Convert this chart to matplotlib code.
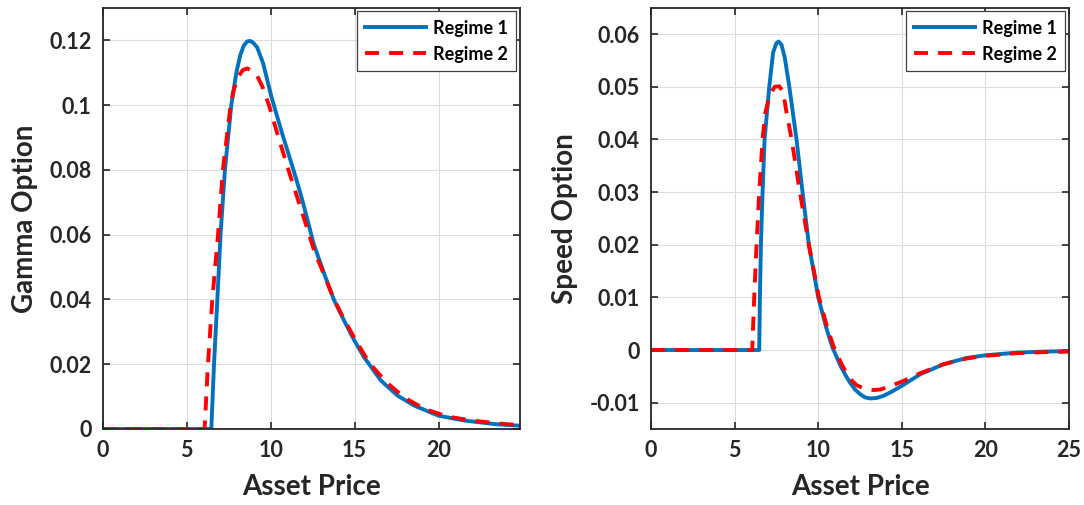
#!/usr/bin/env python3
# gamma and speed of the option under two regimes
import matplotlib
matplotlib.use("Agg")
import matplotlib.pyplot as plt
from matplotlib.ticker import FuncFormatter

# data
gamma_x1 = [0, 6.47, 6.55, 6.63, 6.83, 7.02, 7.28, 7.66, 7.96, 8.2, 8.4, 8.6, 8.77, 8.95, 9.2,
            9.56, 10.05, 10.7, 11.33, 11.79, 12.2, 12.56, 13.2, 13.76, 14.4, 15.0, 15.56,
            16.56, 17.56, 18.56, 20.0, 21.56, 23.36, 24.85]
gamma_y1 = [0, 0, 0.01, 0.02, 0.04, 0.06, 0.08, 0.10, 0.11, 0.1155, 0.1183, 0.1196, 0.1198,
            0.1193, 0.1178, 0.1128, 0.1025, 0.091, 0.0805, 0.0725, 0.0645, 0.0572, 0.0478,
            0.04, 0.0332, 0.0272, 0.0222, 0.0150, 0.0103, 0.0072, 0.0041, 0.0026, 0.0015,
            0.0010]
gamma_x2 = [0, 6.07, 6.17, 6.27, 6.53, 6.87, 7.16, 7.62, 7.82, 8.1, 8.35, 8.61, 8.9, 9.2, 9.5,
            9.9, 10.44, 11.09, 11.79, 12.2, 12.56, 13.2, 13.76, 14.4, 15.0, 15.86, 16.86,
            17.96, 19.16, 20.56, 22.16, 23.76, 24.85]
gamma_y2 = [0, 0, 0.01, 0.02, 0.04, 0.06, 0.08, 0.10, 0.105, 0.109, 0.1108, 0.1113, 0.1105,
            0.109, 0.1058, 0.10, 0.0905, 0.0795, 0.0682, 0.0616, 0.0556, 0.0474, 0.0402,
            0.0336, 0.0280, 0.0205, 0.0146, 0.0097, 0.0062, 0.0038, 0.0025, 0.0016, 0.0012]

speed_x1 = [0, 6.47, 6.51, 6.57, 6.67, 6.79, 7.07, 7.3, 7.5, 7.63, 7.8, 8.0, 8.27, 8.70, 9.06,
            9.44, 10.0, 10.5, 10.85, 11.3, 11.6, 11.9, 12.2, 12.51, 12.8, 13.11, 13.5, 13.9,
            14.4, 15.0, 16.1, 17.49, 18.88, 20.0, 21.87, 23.47, 25]
speed_y1 = [0, 0, 0.01, 0.02, 0.03, 0.04, 0.05, 0.0565, 0.0583, 0.0586, 0.0580, 0.0555, 0.05,
            0.04, 0.03, 0.02, 0.01, 0.004, 0.0005, -0.0028, -0.0046, -0.0062, -0.0075,
            -0.0084, -0.0090, -0.0092, -0.0091, -0.0087, -0.0079, -0.0068, -0.0046, -0.0027,
            -0.0015, -0.001, -0.0005, -0.0003, -0.0002]
speed_x2 = [0, 6.05, 6.17, 6.31, 6.47, 6.67, 6.83, 7.1, 7.4, 7.67, 7.9, 8.11, 8.41, 8.90, 9.44,
            10.04, 10.52, 10.9, 11.12, 11.4, 11.71, 12.0, 12.31, 12.8, 13.31, 13.7, 14.1,
            15.0, 16.1, 17.49, 18.88, 20.0, 21.87, 23.47, 25]
speed_y2 = [0, 0, 0.01, 0.02, 0.03, 0.04, 0.045, 0.0485, 0.0500, 0.0501, 0.0490, 0.045, 0.04,
            0.03, 0.02, 0.01, 0.0045, 0.0008, -0.0008, -0.0027, -0.0045, -0.0058, -0.0067,
            -0.0074, -0.0076, -0.0075, -0.0071, -0.006, -0.0044, -0.0027, -0.0016, -0.0011,
            -0.0006, -0.0004, -0.0003]

labels = ["Regime 1", "Regime 2"]

plt.rcParams["font.family"] = ["Lato", "DejaVu Sans"]
plt.rcParams["font.weight"] = "bold"

fig = plt.figure(figsize=(10.84, 5.05), dpi=100, facecolor="white")
ax1 = fig.add_axes([0.0947, 0.1505, 0.385, 0.834])
ax2 = fig.add_axes([0.6006, 0.1505, 0.3856, 0.834])

fmt = FuncFormatter(lambda v, p: "%g" % round(v, 4))

panels = [
    (ax1, gamma_x1, gamma_y1, gamma_x2, gamma_y2, "Gamma Option",
     (0, 24.85), (0, 0.13), [0, 0.02, 0.04, 0.06, 0.08, 0.1, 0.12], [0, 5, 10, 15, 20]),
    (ax2, speed_x1, speed_y1, speed_x2, speed_y2, "Speed Option",
     (0, 25), (-0.015, 0.065), [-0.01, 0, 0.01, 0.02, 0.03, 0.04, 0.05, 0.06], [0, 5, 10, 15, 20, 25]),
]

for ax, x1, y1, x2, y2, ylab, xl, yl, yt, xt in panels:
    ax.plot(x1, y1, color="#0072BD", lw=2.8, label=labels[0], solid_joinstyle="round")
    ax.plot(x2, y2, color="#FF0000", lw=2.8, ls=(0, (3.6, 2.6)), label=labels[1])
    ax.set_xlim(xl)
    ax.set_ylim(yl)
    ax.set_xticks(xt)
    ax.set_yticks(yt)
    ax.yaxis.set_major_formatter(fmt)
    ax.grid(True, color="#dcdcdc", lw=0.8)
    ax.set_axisbelow(True)
    ax.tick_params(direction="in", top=True, right=True, length=5, width=1.2,
                   labelsize=15.5, pad=8, colors="#262626")
    for s in ax.spines.values():
        s.set_linewidth(1.3)
        s.set_color("#262626")
    ax.set_xlabel("Asset Price", fontsize=20, fontweight="bold", color="#262626", labelpad=9)
    ax.set_ylabel(ylab, fontsize=20, fontweight="bold", color="#262626", labelpad=8)
    leg = ax.legend(loc="upper right", fontsize=13, handlelength=3.4, borderaxespad=0.2,
                    fancybox=False, framealpha=1, edgecolor="#404040", borderpad=0.45,
                    labelspacing=0.5, handletextpad=0.4)
    leg.get_frame().set_linewidth(0.9)
    for t in leg.get_texts():
        t.set_fontweight("bold")

fig.savefig("out.png", dpi=100)
